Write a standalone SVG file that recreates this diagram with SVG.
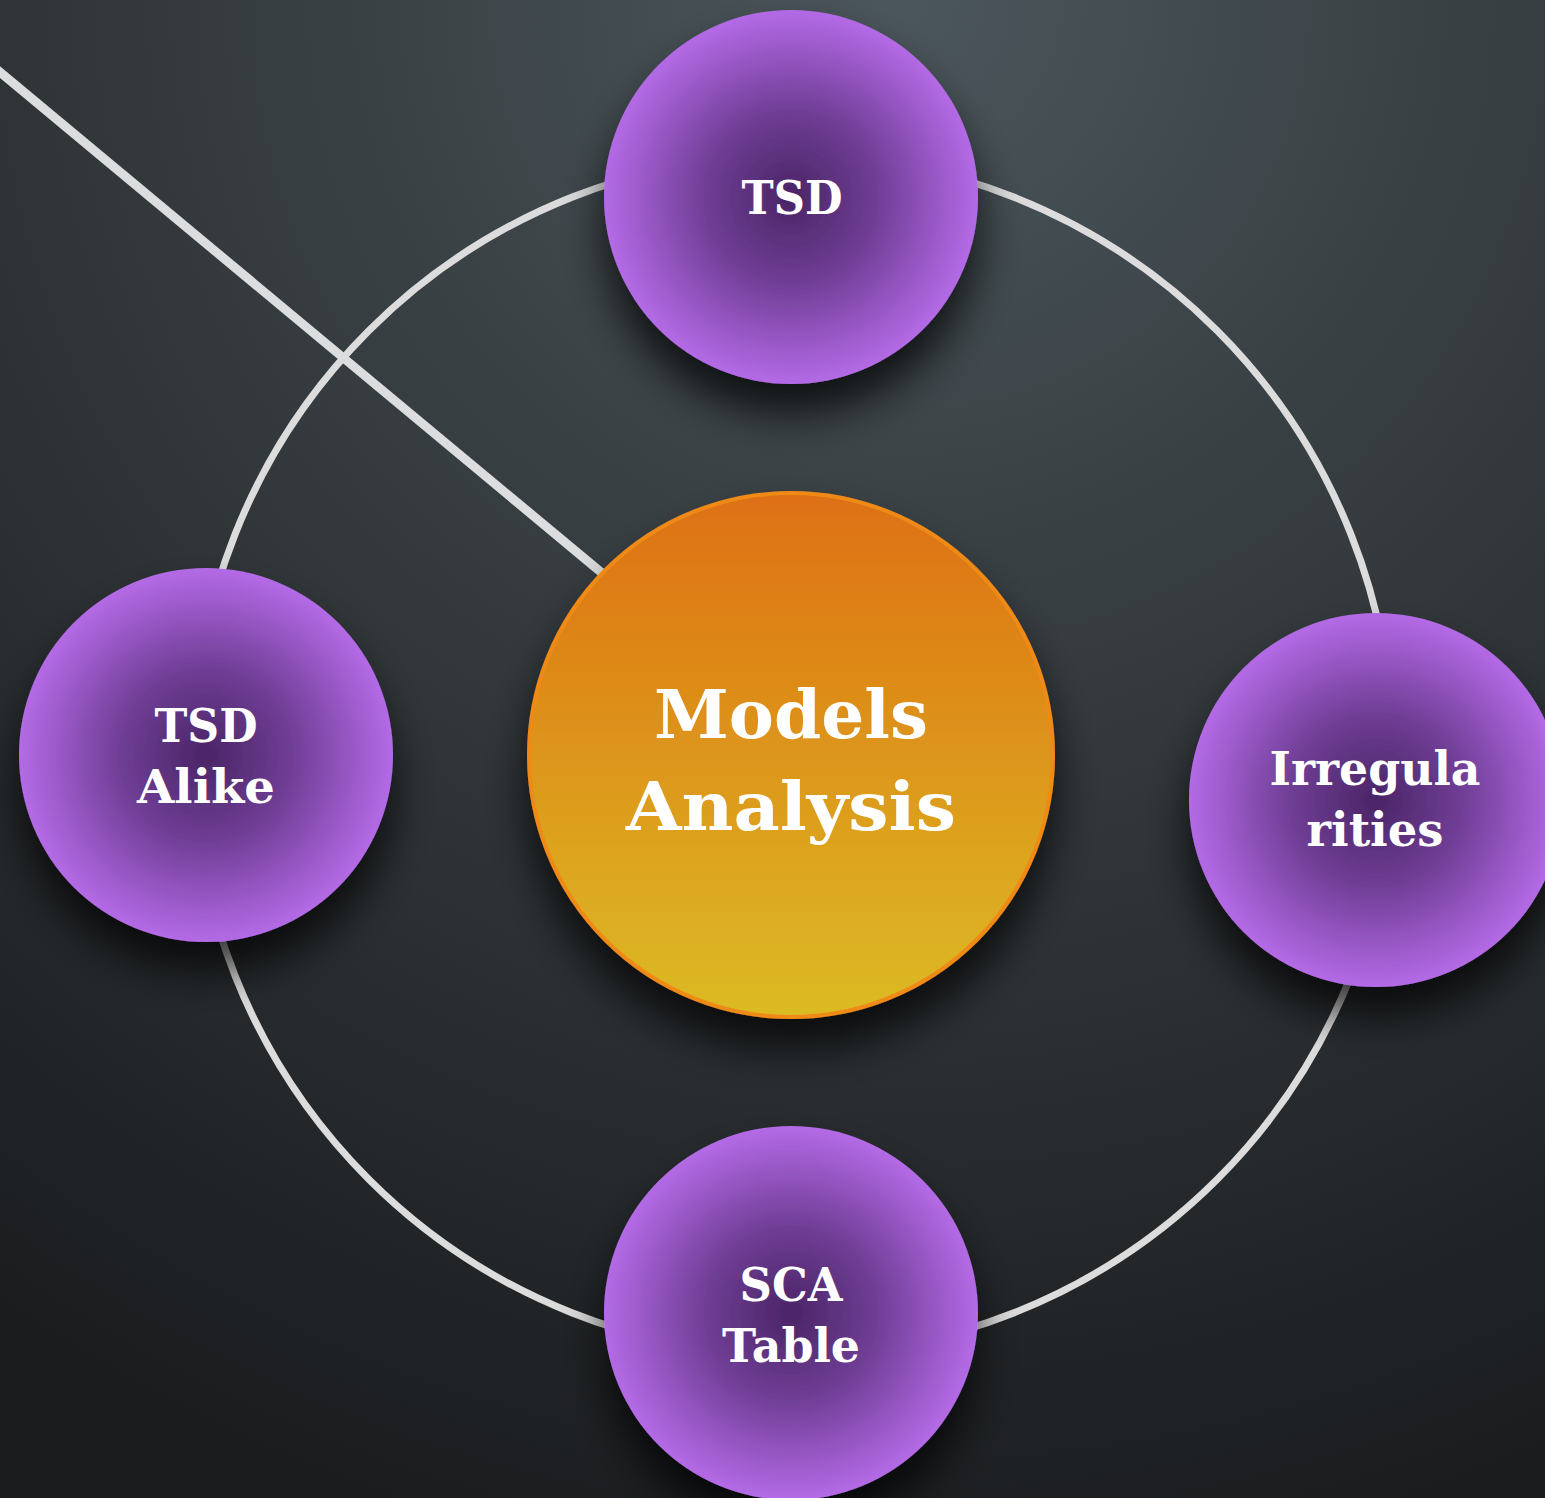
<svg xmlns="http://www.w3.org/2000/svg" width="1545" height="1498" viewBox="0 0 1545 1498">
<defs>
<radialGradient id="bg" cx="900" cy="0" r="1600" gradientUnits="userSpaceOnUse">
<stop offset="0" stop-color="#4b565c"/>
<stop offset="0.45" stop-color="#343a3d"/>
<stop offset="1" stop-color="#1a1c1e"/>
</radialGradient>
<radialGradient id="purple" cx="0.5" cy="0.5" r="0.5">
<stop offset="0" stop-color="#4a2566"/>
<stop offset="0.45" stop-color="#6e3d94"/>
<stop offset="1" stop-color="#b46ae6"/>
</radialGradient>
<linearGradient id="orange" x1="0" y1="0" x2="0" y2="1">
<stop offset="0" stop-color="#de7012"/>
<stop offset="1" stop-color="#dcbb24"/>
</linearGradient>
<filter id="shadow" x="-30%" y="-30%" width="160%" height="170%">
<feDropShadow dx="0" dy="30" stdDeviation="22" flood-color="#000" flood-opacity="0.75"/>
</filter>
<style>
.ring{fill:none;stroke:#dcdcdc;stroke-width:7}
.line{stroke:#dcdddf;stroke-width:9}
.node{fill:url(#purple);filter:url(#shadow)}
.lbl{font-family:"DejaVu Serif","Liberation Serif",serif;font-weight:bold;fill:#fff;text-anchor:middle}
.s{font-size:46px}
.b{font-size:68px}
</style>
</defs>
<rect width="1545" height="1498" fill="url(#bg)"/>
<g id="connectors">
<circle class="ring" cx="793" cy="755" r="600"/>
<line class="line" x1="-5" y1="68" x2="620" y2="588"/>
</g>
<g id="center">
<circle cx="791" cy="755" r="262" fill="url(#orange)" stroke="#ef8a18" stroke-width="4" filter="url(#shadow)"/>
<text class="lbl b" x="791" y="738" textLength="274" lengthAdjust="spacingAndGlyphs">Models</text>
<text class="lbl b" x="791" y="830" textLength="330" lengthAdjust="spacingAndGlyphs">Analysis</text>
</g>
<g id="tsd">
<circle class="node" cx="791" cy="197" r="187"/>
<text class="lbl s" x="792" y="214" textLength="101" lengthAdjust="spacingAndGlyphs">TSD</text>
</g>
<g id="tsd-alike">
<circle class="node" cx="206" cy="755" r="187"/>
<text class="lbl s" x="206" y="742" textLength="103" lengthAdjust="spacingAndGlyphs">TSD</text>
<text class="lbl s" x="206" y="803" textLength="138" lengthAdjust="spacingAndGlyphs">Alike</text>
</g>
<g id="irregularities">
<circle class="node" cx="1376" cy="800" r="187"/>
<text class="lbl s" x="1375" y="785" textLength="211" lengthAdjust="spacingAndGlyphs">Irregula</text>
<text class="lbl s" x="1375" y="846" textLength="137" lengthAdjust="spacingAndGlyphs">rities</text>
</g>
<g id="sca-table">
<circle class="node" cx="791" cy="1313" r="187"/>
<text class="lbl s" x="791" y="1301" textLength="103" lengthAdjust="spacingAndGlyphs">SCA</text>
<text class="lbl s" x="791" y="1362" textLength="138" lengthAdjust="spacingAndGlyphs">Table</text>
</g>
</svg>
